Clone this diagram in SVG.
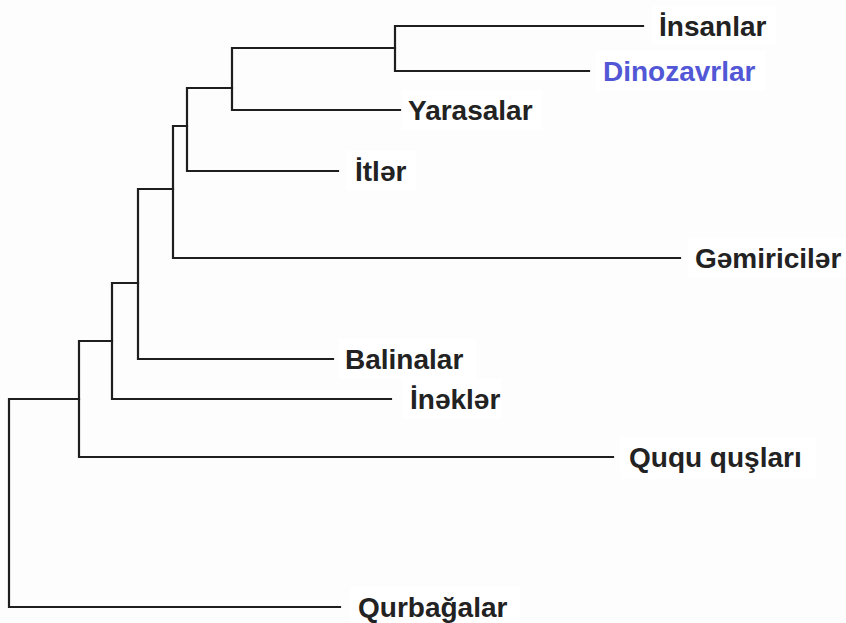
<svg xmlns="http://www.w3.org/2000/svg" width="846" height="623" viewBox="0 0 846 623">
<style>
.edge{fill:none;stroke:#1e1e1e;stroke-width:2.2;stroke-linecap:square}
.lbl{font-family:"Liberation Sans",Arial,sans-serif;font-weight:bold;font-size:28px;fill:#222}
.blue{fill:#5257d6}
.bg{fill:#ffffff}
</style>
<rect x="0" y="0" width="846" height="623" fill="#fdfdfd"/>
<g id="connectors">
<path class="edge" d="M395,26 V71 M395,26 H643 M395,71 H589"/>
<path class="edge" d="M232,48 H395 M232,48 V110 H400"/>
<path class="edge" d="M187,88 H232 M187,88 V171 H338"/>
<path class="edge" d="M173,126 H187 M173,126 V258 H680"/>
<path class="edge" d="M138,189 H173 M138,189 V359 H333"/>
<path class="edge" d="M112,283 H138 M112,283 V399 H391"/>
<path class="edge" d="M79,341 H112 M79,341 V457 H613"/>
<path class="edge" d="M9,399 H79 M9,399 V607 H340"/>
</g>
<g id="insanlar"><rect class="bg" x="652" y="6" width="124" height="38"/><text class="lbl" x="659" y="36">İnsanlar</text></g>
<g id="dinozavrlar"><rect class="bg" x="596" y="51" width="170" height="40"/><text class="lbl blue" x="603" y="81">Dinozavrlar</text></g>
<g id="yarasalar"><rect class="bg" x="402" y="90" width="140" height="40"/><text class="lbl" x="408" y="120">Yarasalar</text></g>
<g id="itler"><rect class="bg" x="346" y="151" width="70" height="40"/><text class="lbl" x="355" y="181">İtlər</text></g>
<g id="gemiriciler"><rect class="bg" x="688" y="238" width="158" height="40"/><text class="lbl" x="695" y="268">Gəmiricilər</text></g>
<g id="balinalar"><rect class="bg" x="338" y="339" width="138" height="40"/><text class="lbl" x="345" y="369">Balinalar</text></g>
<g id="inekler"><rect class="bg" x="402" y="379" width="100" height="40"/><text class="lbl" x="410" y="409">İnəklər</text></g>
<g id="ququ"><rect class="bg" x="620" y="437" width="196" height="42"/><text class="lbl" x="629" y="467">Ququ quşları</text></g>
<g id="qurbagalar"><rect class="bg" x="350" y="587" width="170" height="36"/><text class="lbl" x="358" y="617">Qurbağalar</text></g>
</svg>
